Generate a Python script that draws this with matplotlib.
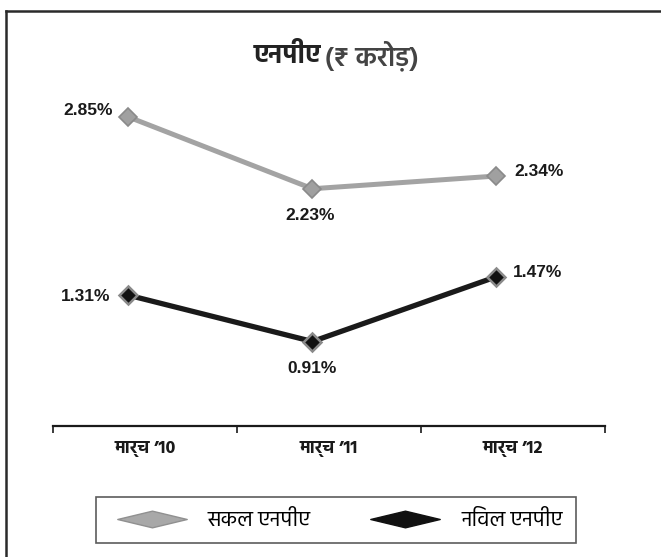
import matplotlib
matplotlib.use('Agg')
import matplotlib.pyplot as plt
from matplotlib import font_manager
from matplotlib.lines import Line2D
from matplotlib.path import Path

# data
categories = ["मार्च ’10", "मार्च ’11", "मार्च ’12"]
gross_npa = [2.85, 2.23, 2.34]
net_npa = [1.31, 0.91, 1.47]
series_names = ["सकल एनपीए", "निवल एनपीए"]
title_main = "एनपीए"
title_unit = "(₹ करोड़)"

# pick an installed font that has Devanagari
installed = {f.name for f in font_manager.fontManager.ttflist}
deva = next((f for f in ['Hind', 'Noto Sans Devanagari', 'Mukta', 'Yantramanav',
                         'Anek Devanagari', 'Poppins'] if f in installed), 'DejaVu Sans')
latin = 'Liberation Sans'

fig = plt.figure(figsize=(6.61, 5.57), dpi=100)
ax = fig.add_axes([0.0802, 0.2352, 0.8351, 0.6275])

x = [i - 0.09 for i in range(len(categories))]
ax.plot(x, gross_npa, color='#a3a3a3', lw=3.6, marker='D', ms=9,
        mfc='#a0a0a0', mec='#8a8a8a', mew=1.2, zorder=3)
ax.plot(x, net_npa, color='#1a1a1a', lw=3.8, marker='D', ms=9,
        mfc='#111111', mec='#8a8a8a', mew=1.8, zorder=3)

# value labels
offs_g = [(-11, 5, 'right'), (-1.5, -19, 'center'), (13, 3, 'left')]
offs_n = [(-13, -1, 'right'), (0, -19.5, 'center'), (12, 3, 'left')]
for vals, offs in [(gross_npa, offs_g), (net_npa, offs_n)]:
    for xi, v, (dx, dy, ha) in zip(x, vals, offs):
        ax.annotate(f"{v:.2f}%", (xi, v), xytext=(dx, dy), textcoords='offset points',
                    ha=ha, va='center', fontsize=12.5, fontweight='bold',
                    family=latin, color='#1a1a1a')

ax.set_xlim(-0.5, len(categories) - 0.5)
ax.set_ylim(0.18, 3.2)
ax.set_yticks([])
for s in ['top', 'right', 'left']:
    ax.spines[s].set_visible(False)
ax.spines['bottom'].set_linewidth(1.6)
ax.spines['bottom'].set_color('#1a1a1a')
ax.set_xticks([i - 0.5 for i in range(len(categories) + 1)])
ax.set_xticklabels([])
ax.set_xticks(range(len(categories)), minor=True)
ax.set_xticklabels(categories, minor=True, fontsize=13, fontweight='bold',
                   family=[deva, latin], color='#1a1a1a')
ax.tick_params(axis='x', which='major', length=5, width=1.2, color='#1a1a1a')
ax.tick_params(axis='x', which='minor', length=0, pad=11)

# title: bold name, lighter unit
fig.text(0.485, 0.9, title_main, ha='right', va='center', fontsize=19,
         fontweight='bold', family=[deva, latin], color='#222222')
fig.text(0.492, 0.9, title_unit, ha='left', va='center', fontsize=19.5,
         fontweight='semibold', family=[deva, latin], color='#444444')

# legend with flat diamond swatches
flat = Path([(-1, 0), (0, 0.24), (1, 0), (0, -0.24), (-1, 0)],
            [Path.MOVETO, Path.LINETO, Path.LINETO, Path.LINETO, Path.CLOSEPOLY])
handles = [Line2D([], [], ls='none', marker=flat, ms=50, mfc='#a8a8a8', mec='#909090', mew=1),
           Line2D([], [], ls='none', marker=flat, ms=50, mfc='#111111', mec='#111111', mew=1)]
leg = fig.legend(handles, series_names, loc='center', bbox_to_anchor=(0.508, 0.066),
                 ncol=2, frameon=True, fancybox=False, edgecolor='#333333',
                 handlelength=4.0, handletextpad=0.6, columnspacing=2.4,
                 borderpad=0.6, prop={'family': [deva, latin], 'size': 15.5})
leg.get_frame().set_linewidth(1.2)

# outer frame, top and left edges
fig.add_artist(Line2D([6 / 661, 1], [1 - 11 / 557] * 2, transform=fig.transFigure,
                      color='#2a2a2a', lw=1.8))
fig.add_artist(Line2D([6 / 661] * 2, [0, 1 - 11 / 557], transform=fig.transFigure,
                      color='#2a2a2a', lw=1.8))

fig.savefig('out.png', dpi=100)
